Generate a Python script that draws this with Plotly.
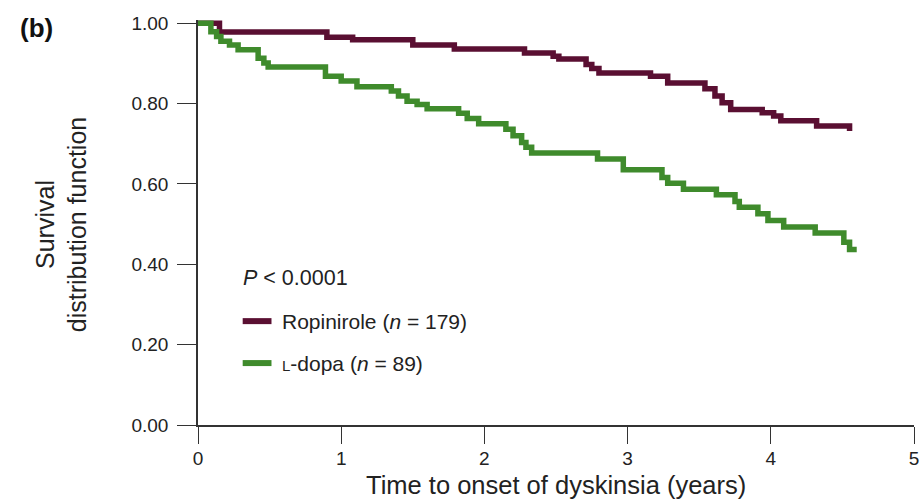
import plotly.graph_objects as go

# Kaplan-Meier step data
ropinirole_t = [0, 0.15, 0.90, 1.08, 1.50, 1.79, 2.28, 2.48, 2.52, 2.71, 2.75, 2.80, 3.16, 3.28,
                3.54, 3.61, 3.66, 3.72, 3.94, 4.02, 4.07, 4.32, 4.55]
ropinirole_s = [1.0, 0.978, 0.965, 0.959, 0.946, 0.936, 0.926, 0.918, 0.911, 0.897, 0.887, 0.876,
                0.868, 0.851, 0.837, 0.819, 0.802, 0.785, 0.777, 0.769, 0.757, 0.744, 0.732]

ldopa_t = [0, 0.09, 0.13, 0.16, 0.22, 0.28, 0.42, 0.46, 0.49, 0.89, 1.00, 1.11, 1.35, 1.40, 1.46,
           1.53, 1.60, 1.82, 1.88, 1.96, 2.15, 2.20, 2.26, 2.29, 2.33, 2.79, 2.97, 3.24, 3.28, 3.39,
           3.62, 3.75, 3.78, 3.91, 3.98, 4.09, 4.31, 4.51, 4.55, 4.60]
ldopa_s = [1.0, 0.979, 0.967, 0.955, 0.946, 0.934, 0.913, 0.901, 0.891, 0.868, 0.856, 0.842, 0.831,
           0.819, 0.806, 0.798, 0.787, 0.776, 0.763, 0.750, 0.736, 0.720, 0.703, 0.691, 0.677, 0.662,
           0.635, 0.616, 0.602, 0.587, 0.573, 0.556, 0.542, 0.526, 0.509, 0.493, 0.478, 0.455, 0.437,
           0.437]

x_ticks = [0, 1, 2, 3, 4, 5]
y_ticks = [0, 0.2, 0.4, 0.6, 0.8, 1.0]
y_ticklabels = ["0.00", "0.20", "0.40", "0.60", "0.80", "1.00"]

MAROON = "#5a0f32"
GREEN = "#3f8b2c"
AXIS = "#333333"
FONT = "Liberation Sans, Arial, sans-serif"

fig = go.Figure()
fig.add_trace(go.Scatter(x=ropinirole_t, y=ropinirole_s, mode="lines",
                         line=dict(shape="hv", color=MAROON, width=5.5),
                         name="Ropinirole", showlegend=False))
fig.add_trace(go.Scatter(x=ldopa_t, y=ldopa_s, mode="lines",
                         line=dict(shape="hv", color=GREEN, width=5.5),
                         name="L-dopa", showlegend=False))

L, R, T, B = 198, 3, 19.5, 74
W, H = 922, 499
pw = W - L - R
ph = H - T - B


def px(xp):
    return (xp - L) / pw


def py(yp):
    return (H - B - yp) / ph


fig.update_layout(
    width=W, height=H,
    margin=dict(l=L, r=R, t=T, b=B),
    paper_bgcolor="white", plot_bgcolor="white",
    font=dict(family=FONT, color="#222222"),
    xaxis=dict(range=[0, 5], tickvals=x_ticks, ticktext=[str(v) for v in x_ticks],
               showline=True, linecolor=AXIS, linewidth=1.5,
               ticks="outside", ticklen=17, tickwidth=1.3, tickcolor=AXIS,
               showgrid=False, zeroline=False, tickfont=dict(size=19, family=FONT),
               ticklabelstandoff=-2, ticklabeloverflow="allow"),
    yaxis=dict(range=[0, 1.008], tickvals=y_ticks, ticktext=y_ticklabels,
               showline=True, linecolor=AXIS, linewidth=1.5,
               ticks="outside", ticklen=19, tickwidth=1.3, tickcolor=AXIS,
               showgrid=False, zeroline=False, tickfont=dict(size=19, family=FONT),
               ticklabelstandoff=5),
)

ann = []
ann.append(dict(text="<b>(b)</b>", x=px(35), y=py(28), xref="paper", yref="paper",
                xanchor="center", yanchor="middle", showarrow=False,
                font=dict(size=26, family=FONT, color="#111111")))
ann.append(dict(text="Survival<br>distribution function", x=px(60), y=py(224),
                xref="paper", yref="paper", xanchor="center", yanchor="middle",
                textangle=-90, showarrow=False, align="center",
                font=dict(size=25, family=FONT, color="#222222")))
ann.append(dict(text="Time to onset of dyskinsia (years)", x=px(559), y=py(485),
                xref="paper", yref="paper", xanchor="center", yanchor="middle",
                showarrow=False, font=dict(size=25.5, family=FONT, color="#222222")))
ann.append(dict(text="<i>P</i> < 0.0001", x=px(241), y=py(278), xref="paper", yref="paper",
                xanchor="left", yanchor="middle", showarrow=False,
                font=dict(size=21.5, family=FONT, color="#222222")))
ann.append(dict(text="Ropinirole (<i>n</i> = 179)", x=px(281), y=py(321), xref="paper",
                yref="paper", xanchor="left", yanchor="middle", showarrow=False,
                font=dict(size=21, family=FONT, color="#222222")))
ann.append(dict(text="<span style='font-size:15px'>L</span>-dopa (<i>n</i> = 89)", x=px(281),
                y=py(363), xref="paper", yref="paper", xanchor="left", yanchor="middle",
                showarrow=False, font=dict(size=21, family=FONT, color="#222222")))
fig.update_layout(annotations=ann)

fig.add_shape(type="line", xref="paper", yref="paper", x0=px(243), x1=px(272),
              y0=py(321), y1=py(321), line=dict(color=MAROON, width=6))
fig.add_shape(type="line", xref="paper", yref="paper", x0=px(243), x1=px(272),
              y0=py(363), y1=py(363), line=dict(color=GREEN, width=6))

fig.write_html("out.html", config={"displayModeBar": False},
               post_script="document.body.style.margin='0';document.body.style.overflow='hidden';")
